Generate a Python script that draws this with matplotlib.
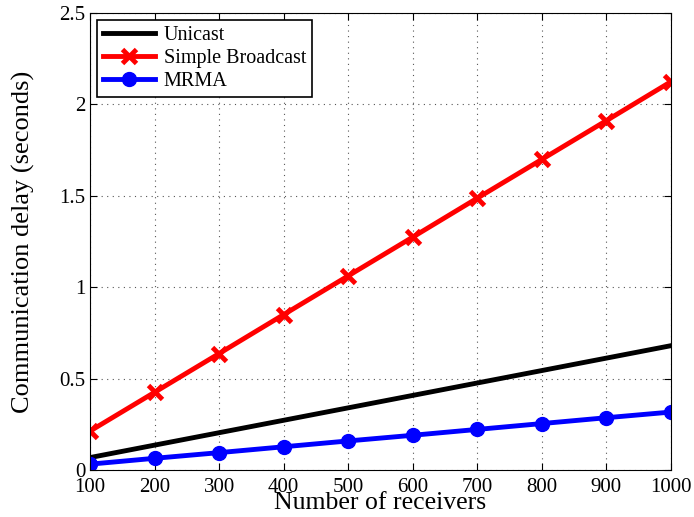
import matplotlib
matplotlib.use('Agg')
import matplotlib.pyplot as plt

receivers = [100, 200, 300, 400, 500, 600, 700, 800, 900, 1000]
unicast = [0.068, 0.136, 0.204, 0.272, 0.340, 0.408, 0.476, 0.544, 0.612, 0.680]
broadcast = [0.213, 0.425, 0.637, 0.850, 1.062, 1.274, 1.487, 1.699, 1.911, 2.124]
mrma = [0.032, 0.064, 0.095, 0.127, 0.159, 0.190, 0.222, 0.254, 0.286, 0.317]
yticks = [0, 0.5, 1, 1.5, 2, 2.5]
yticklabels = ['0', '0.5', '1', '1.5', '2', '2.5']

plt.rcParams['font.family'] = ['Liberation Serif', 'DejaVu Serif']

fig = plt.figure(figsize=(6.94, 5.17), dpi=100)
ax = fig.add_axes([0.1297, 0.0909, 0.837, 0.884])

ax.plot(receivers, unicast, color='black', lw=3.5, label='Unicast')
ax.plot(receivers, broadcast, color='red', lw=3.5, marker='x', ms=10, mew=3.5,
        label='Simple Broadcast')
ax.plot(receivers, mrma, color='blue', lw=3.5, marker='o', ms=10,
        label='MRMA')

ax.set_xlim(100, 1000)
ax.set_ylim(0, 2.5)
ax.set_xticks(receivers)
ax.set_yticks(yticks)
ax.set_yticklabels(yticklabels)
ax.tick_params(direction='in', top=True, right=True, labelsize=15, length=5)
ax.tick_params(axis='x', pad=6)
ax.grid(True, linestyle=(0, (1, 4)), color='#555555', lw=0.8)
ax.set_xlabel('Number of receivers', fontsize=18.5, labelpad=-4)
ax.set_ylabel('Communication delay (seconds)', fontsize=19, labelpad=17)

leg = ax.legend(loc='upper left', fontsize=14.5, fancybox=False, framealpha=1,
                edgecolor='black', borderaxespad=0.35, handlelength=2.6,
                labelspacing=0.2, borderpad=0.3, handletextpad=0.4)
leg.get_frame().set_linewidth(1.2)

fig.savefig('out.png', dpi=100)
